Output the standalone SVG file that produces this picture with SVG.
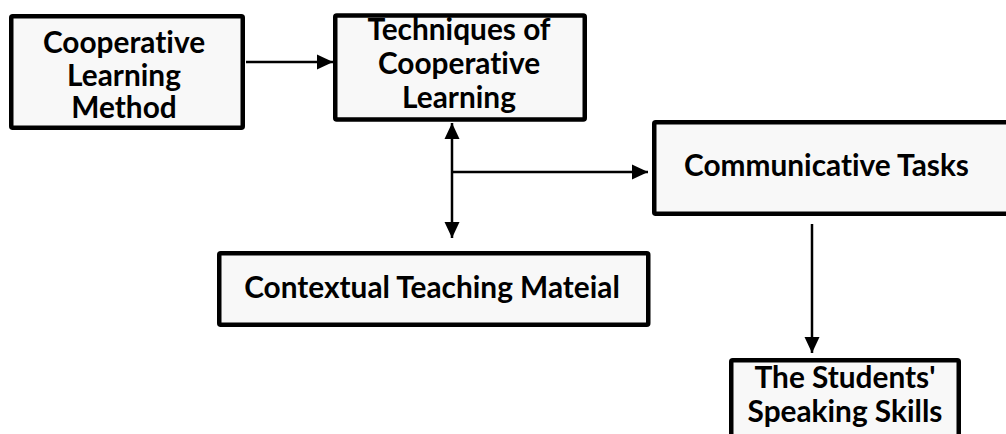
<svg xmlns="http://www.w3.org/2000/svg" width="1006" height="434" viewBox="0 0 1006 434">
<defs>
<style>
.box{fill:#f8f8f8;stroke:#000;stroke-width:4.5}
.t{font-family:Lato,"Liberation Sans",sans-serif;font-weight:bold;font-size:29.8px;fill:#000;text-anchor:middle;font-variant-ligatures:none;font-feature-settings:"liga" 0}
.c{stroke:#000;stroke-width:2.5;fill:none}
</style>
<marker id="ah" markerUnits="userSpaceOnUse" markerWidth="16" markerHeight="16" refX="16" refY="7.5" orient="auto-start-reverse" viewBox="0 0 16 15">
<path d="M0,0 L16,7.5 L0,15 z" fill="#000"/>
</marker>
</defs>
<rect width="1006" height="434" fill="#fff"/>
<g id="connectors">
<line class="c" x1="246" y1="62" x2="333" y2="62" marker-end="url(#ah)"/>
<line class="c" x1="452" y1="123" x2="452" y2="238" marker-start="url(#ah)" marker-end="url(#ah)"/>
<line class="c" x1="452" y1="172" x2="648" y2="172" marker-end="url(#ah)"/>
<line class="c" x1="812" y1="224" x2="812" y2="353" marker-end="url(#ah)"/>
</g>
<g id="node-method">
<rect class="box" x="11.25" y="16.25" width="231.5" height="111.5" rx="1.5"/>
<text class="t" x="124" y="53">Cooperative</text>
<text class="t" x="124" y="86">Learning</text>
<text class="t" x="124" y="118">Method</text>
</g>
<g id="node-techniques">
<rect class="box" x="335.25" y="15.5" width="249.5" height="104" rx="1.5"/>
<text class="t" x="459" y="40">Techniques of</text>
<text class="t" x="459" y="74">Cooperative</text>
<text class="t" x="459" y="108">Learning</text>
</g>
<g id="node-communicative">
<rect class="box" x="654.25" y="122.25" width="360" height="91.5" rx="1.5"/>
<text class="t" x="826.5" y="176">Communicative Tasks</text>
</g>
<g id="node-contextual">
<rect class="box" x="219.25" y="253.25" width="429" height="71.5" rx="1.5"/>
<text class="t" x="432" y="298">Contextual Teaching Mateial</text>
</g>
<g id="node-students">
<rect class="box" x="731.25" y="360.25" width="227.5" height="90" rx="1.5"/>
<text class="t" x="845" y="388">The Students'</text>
<text class="t" x="845" y="422">Speaking Skills</text>
</g>
</svg>
